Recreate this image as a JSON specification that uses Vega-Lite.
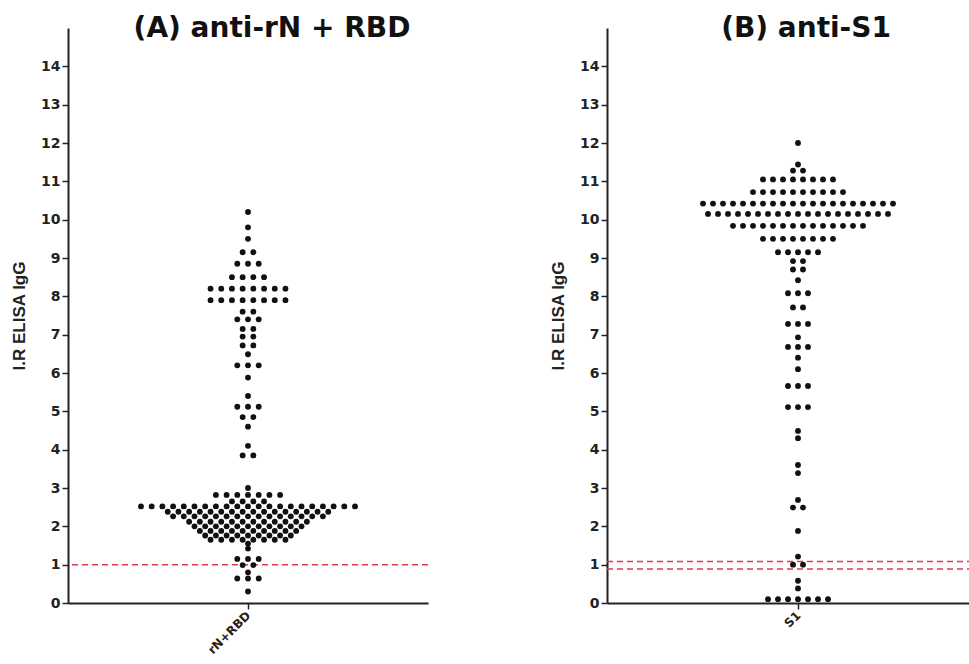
{
  "$schema": "https://vega.github.io/schema/vega-lite/v6.json",
  "background": "#ffffff",
  "padding": {"left": 10, "top": 15, "right": 0, "bottom": 0},
  "spacing": 120,
  "config": {
    "view": {"stroke": null},
    "axis": {"grid": false, "domainColor": "#222", "domainWidth": 2, "tickColor": "#222", "tickWidth": 1.5, "tickSize": 6, "labelColor": "#222", "titleColor": "#222"}
  },
  "datasets": {
    "pts": [
      {"g":"rN+RBD","v":10.2},{"g":"rN+RBD","v":9.8},{"g":"rN+RBD","v":9.5},
      {"g":"rN+RBD","v":9.15},{"g":"rN+RBD","v":9.15},
      {"g":"rN+RBD","v":8.85},{"g":"rN+RBD","v":8.85},{"g":"rN+RBD","v":8.85},
      {"g":"rN+RBD","v":8.5},{"g":"rN+RBD","v":8.5},{"g":"rN+RBD","v":8.5},{"g":"rN+RBD","v":8.5},
      {"g":"rN+RBD","v":8.2},{"g":"rN+RBD","v":8.2},{"g":"rN+RBD","v":8.2},{"g":"rN+RBD","v":8.2},{"g":"rN+RBD","v":8.2},{"g":"rN+RBD","v":8.2},{"g":"rN+RBD","v":8.2},{"g":"rN+RBD","v":8.2},
      {"g":"rN+RBD","v":7.9},{"g":"rN+RBD","v":7.9},{"g":"rN+RBD","v":7.9},{"g":"rN+RBD","v":7.9},{"g":"rN+RBD","v":7.9},{"g":"rN+RBD","v":7.9},{"g":"rN+RBD","v":7.9},{"g":"rN+RBD","v":7.9},
      {"g":"rN+RBD","v":7.6},{"g":"rN+RBD","v":7.6},
      {"g":"rN+RBD","v":7.4},{"g":"rN+RBD","v":7.4},{"g":"rN+RBD","v":7.4},
      {"g":"rN+RBD","v":7.15},{"g":"rN+RBD","v":7.15},
      {"g":"rN+RBD","v":6.95},{"g":"rN+RBD","v":6.95},
      {"g":"rN+RBD","v":6.72},{"g":"rN+RBD","v":6.72},
      {"g":"rN+RBD","v":6.49},
      {"g":"rN+RBD","v":6.2},{"g":"rN+RBD","v":6.2},{"g":"rN+RBD","v":6.2},
      {"g":"rN+RBD","v":5.88},{"g":"rN+RBD","v":5.4},
      {"g":"rN+RBD","v":5.12},{"g":"rN+RBD","v":5.12},{"g":"rN+RBD","v":5.12},
      {"g":"rN+RBD","v":4.85},{"g":"rN+RBD","v":4.85},
      {"g":"rN+RBD","v":4.6},{"g":"rN+RBD","v":4.1},
      {"g":"rN+RBD","v":3.85},{"g":"rN+RBD","v":3.85},
      {"g":"rN+RBD","v":3.0},
      {"g":"rN+RBD","v":2.82},{"g":"rN+RBD","v":2.82},{"g":"rN+RBD","v":2.82},{"g":"rN+RBD","v":2.82},{"g":"rN+RBD","v":2.82},{"g":"rN+RBD","v":2.82},{"g":"rN+RBD","v":2.82},
      {"g":"rN+RBD","v":2.65},{"g":"rN+RBD","v":2.65},{"g":"rN+RBD","v":2.65},{"g":"rN+RBD","v":2.65},
      {"g":"rN+RBD","v":2.52},{"g":"rN+RBD","v":2.52},{"g":"rN+RBD","v":2.52},{"g":"rN+RBD","v":2.52},{"g":"rN+RBD","v":2.52},{"g":"rN+RBD","v":2.52},{"g":"rN+RBD","v":2.52},{"g":"rN+RBD","v":2.52},{"g":"rN+RBD","v":2.52},{"g":"rN+RBD","v":2.52},{"g":"rN+RBD","v":2.52},{"g":"rN+RBD","v":2.52},{"g":"rN+RBD","v":2.52},{"g":"rN+RBD","v":2.52},{"g":"rN+RBD","v":2.52},{"g":"rN+RBD","v":2.52},{"g":"rN+RBD","v":2.52},{"g":"rN+RBD","v":2.52},{"g":"rN+RBD","v":2.52},{"g":"rN+RBD","v":2.52},{"g":"rN+RBD","v":2.52},
      {"g":"rN+RBD","v":2.38},{"g":"rN+RBD","v":2.38},{"g":"rN+RBD","v":2.38},{"g":"rN+RBD","v":2.38},{"g":"rN+RBD","v":2.38},{"g":"rN+RBD","v":2.38},{"g":"rN+RBD","v":2.38},{"g":"rN+RBD","v":2.38},{"g":"rN+RBD","v":2.38},{"g":"rN+RBD","v":2.38},{"g":"rN+RBD","v":2.38},{"g":"rN+RBD","v":2.38},{"g":"rN+RBD","v":2.38},{"g":"rN+RBD","v":2.38},{"g":"rN+RBD","v":2.38},{"g":"rN+RBD","v":2.38},
      {"g":"rN+RBD","v":2.26},{"g":"rN+RBD","v":2.26},{"g":"rN+RBD","v":2.26},{"g":"rN+RBD","v":2.26},{"g":"rN+RBD","v":2.26},{"g":"rN+RBD","v":2.26},{"g":"rN+RBD","v":2.26},{"g":"rN+RBD","v":2.26},{"g":"rN+RBD","v":2.26},{"g":"rN+RBD","v":2.26},{"g":"rN+RBD","v":2.26},{"g":"rN+RBD","v":2.26},{"g":"rN+RBD","v":2.26},{"g":"rN+RBD","v":2.26},{"g":"rN+RBD","v":2.26},
      {"g":"rN+RBD","v":2.12},{"g":"rN+RBD","v":2.12},{"g":"rN+RBD","v":2.12},{"g":"rN+RBD","v":2.12},{"g":"rN+RBD","v":2.12},{"g":"rN+RBD","v":2.12},{"g":"rN+RBD","v":2.12},{"g":"rN+RBD","v":2.12},{"g":"rN+RBD","v":2.12},{"g":"rN+RBD","v":2.12},{"g":"rN+RBD","v":2.12},{"g":"rN+RBD","v":2.12},
      {"g":"rN+RBD","v":2.0},{"g":"rN+RBD","v":2.0},{"g":"rN+RBD","v":2.0},{"g":"rN+RBD","v":2.0},{"g":"rN+RBD","v":2.0},{"g":"rN+RBD","v":2.0},{"g":"rN+RBD","v":2.0},{"g":"rN+RBD","v":2.0},{"g":"rN+RBD","v":2.0},{"g":"rN+RBD","v":2.0},{"g":"rN+RBD","v":2.0},
      {"g":"rN+RBD","v":1.88},{"g":"rN+RBD","v":1.88},{"g":"rN+RBD","v":1.88},{"g":"rN+RBD","v":1.88},{"g":"rN+RBD","v":1.88},{"g":"rN+RBD","v":1.88},{"g":"rN+RBD","v":1.88},{"g":"rN+RBD","v":1.88},{"g":"rN+RBD","v":1.88},{"g":"rN+RBD","v":1.88},
      {"g":"rN+RBD","v":1.76},{"g":"rN+RBD","v":1.76},{"g":"rN+RBD","v":1.76},{"g":"rN+RBD","v":1.76},{"g":"rN+RBD","v":1.76},{"g":"rN+RBD","v":1.76},{"g":"rN+RBD","v":1.76},{"g":"rN+RBD","v":1.76},{"g":"rN+RBD","v":1.76},
      {"g":"rN+RBD","v":1.65},{"g":"rN+RBD","v":1.65},{"g":"rN+RBD","v":1.65},{"g":"rN+RBD","v":1.65},{"g":"rN+RBD","v":1.65},{"g":"rN+RBD","v":1.65},{"g":"rN+RBD","v":1.65},{"g":"rN+RBD","v":1.65},
      {"g":"rN+RBD","v":1.55},{"g":"rN+RBD","v":1.42},
      {"g":"rN+RBD","v":1.15},{"g":"rN+RBD","v":1.15},{"g":"rN+RBD","v":1.15},
      {"g":"rN+RBD","v":0.99},{"g":"rN+RBD","v":0.99},
      {"g":"rN+RBD","v":0.8},
      {"g":"rN+RBD","v":0.64},{"g":"rN+RBD","v":0.64},{"g":"rN+RBD","v":0.64},
      {"g":"rN+RBD","v":0.3},
      {"g":"S1","v":12.0},{"g":"S1","v":11.44},
      {"g":"S1","v":11.28},{"g":"S1","v":11.28},
      {"g":"S1","v":11.05},{"g":"S1","v":11.05},{"g":"S1","v":11.05},{"g":"S1","v":11.05},{"g":"S1","v":11.05},{"g":"S1","v":11.05},{"g":"S1","v":11.05},{"g":"S1","v":11.05},
      {"g":"S1","v":10.72},{"g":"S1","v":10.72},{"g":"S1","v":10.72},{"g":"S1","v":10.72},{"g":"S1","v":10.72},{"g":"S1","v":10.72},{"g":"S1","v":10.72},{"g":"S1","v":10.72},{"g":"S1","v":10.72},{"g":"S1","v":10.72},
      {"g":"S1","v":10.42},{"g":"S1","v":10.42},{"g":"S1","v":10.42},{"g":"S1","v":10.42},{"g":"S1","v":10.42},{"g":"S1","v":10.42},{"g":"S1","v":10.42},{"g":"S1","v":10.42},{"g":"S1","v":10.42},{"g":"S1","v":10.42},{"g":"S1","v":10.42},{"g":"S1","v":10.42},{"g":"S1","v":10.42},{"g":"S1","v":10.42},{"g":"S1","v":10.42},{"g":"S1","v":10.42},{"g":"S1","v":10.42},{"g":"S1","v":10.42},{"g":"S1","v":10.42},{"g":"S1","v":10.42},
      {"g":"S1","v":10.15},{"g":"S1","v":10.15},{"g":"S1","v":10.15},{"g":"S1","v":10.15},{"g":"S1","v":10.15},{"g":"S1","v":10.15},{"g":"S1","v":10.15},{"g":"S1","v":10.15},{"g":"S1","v":10.15},{"g":"S1","v":10.15},{"g":"S1","v":10.15},{"g":"S1","v":10.15},{"g":"S1","v":10.15},{"g":"S1","v":10.15},{"g":"S1","v":10.15},{"g":"S1","v":10.15},{"g":"S1","v":10.15},{"g":"S1","v":10.15},{"g":"S1","v":10.15},
      {"g":"S1","v":9.84},{"g":"S1","v":9.84},{"g":"S1","v":9.84},{"g":"S1","v":9.84},{"g":"S1","v":9.84},{"g":"S1","v":9.84},{"g":"S1","v":9.84},{"g":"S1","v":9.84},{"g":"S1","v":9.84},{"g":"S1","v":9.84},{"g":"S1","v":9.84},{"g":"S1","v":9.84},{"g":"S1","v":9.84},{"g":"S1","v":9.84},
      {"g":"S1","v":9.5},{"g":"S1","v":9.5},{"g":"S1","v":9.5},{"g":"S1","v":9.5},{"g":"S1","v":9.5},{"g":"S1","v":9.5},{"g":"S1","v":9.5},{"g":"S1","v":9.5},
      {"g":"S1","v":9.15},{"g":"S1","v":9.15},{"g":"S1","v":9.15},{"g":"S1","v":9.15},{"g":"S1","v":9.15},
      {"g":"S1","v":8.92},{"g":"S1","v":8.92},
      {"g":"S1","v":8.7},{"g":"S1","v":8.7},
      {"g":"S1","v":8.42},
      {"g":"S1","v":8.08},{"g":"S1","v":8.08},{"g":"S1","v":8.08},
      {"g":"S1","v":7.71},{"g":"S1","v":7.71},
      {"g":"S1","v":7.28},{"g":"S1","v":7.28},{"g":"S1","v":7.28},
      {"g":"S1","v":6.93},
      {"g":"S1","v":6.68},{"g":"S1","v":6.68},{"g":"S1","v":6.68},
      {"g":"S1","v":6.4},{"g":"S1","v":6.1},
      {"g":"S1","v":5.66},{"g":"S1","v":5.66},{"g":"S1","v":5.66},
      {"g":"S1","v":5.11},{"g":"S1","v":5.11},{"g":"S1","v":5.11},
      {"g":"S1","v":4.49},{"g":"S1","v":4.3},
      {"g":"S1","v":3.6},{"g":"S1","v":3.39},
      {"g":"S1","v":2.69},{"g":"S1","v":2.49},{"g":"S1","v":2.49},
      {"g":"S1","v":1.88},
      {"g":"S1","v":1.21},{"g":"S1","v":1.0},{"g":"S1","v":1.0},
      {"g":"S1","v":0.58},{"g":"S1","v":0.38},
      {"g":"S1","v":0.1},{"g":"S1","v":0.1},{"g":"S1","v":0.1},{"g":"S1","v":0.1},{"g":"S1","v":0.1},{"g":"S1","v":0.1},{"g":"S1","v":0.1}
    ],
    "cut": [
      {"g":"rN+RBD","v":1.0},
      {"g":"S1","v":1.08},
      {"g":"S1","v":0.89}
    ]
  },
  "hconcat": [
    {
      "width": 360,
      "height": 575,
      "title": {"text": "(A) anti-rN + RBD", "font": "DejaVu Sans", "fontSize": 28, "fontWeight": "bold", "color": "#111", "anchor": "middle", "dx": 24, "offset": -37, "baseline": "alphabetic"},
      "layer": [
        {
          "data": {"name": "cut"},
          "transform": [{"filter": {"field": "g", "equal": "rN+RBD"}}],
          "mark": {"type": "rule", "color": "#e23a4c", "strokeWidth": 1.5, "strokeDash": [6, 4]},
          "encoding": {"y": {"field": "v", "type": "quantitative"}}
        },
        {
          "data": {"name": "pts"},
          "transform": [
            {"filter": {"field": "g", "equal": "rN+RBD"}},
            {"window": [{"op": "count", "as": "one"}], "frame": [0, 0]},
            {"stack": "one", "groupby": ["g", "v"], "offset": "center", "as": ["s0", "s1"]}
          ],
          "mark": {"type": "circle", "size": 34, "color": "#111", "opacity": 1},
          "encoding": {
            "x": {"field": "s0", "type": "quantitative", "scale": {"domain": [-6.82, 26.82], "nice": false, "zero": false},
                  "axis": {"values": [10], "labelExpr": "'rN+RBD'", "title": null, "labelAngle": -45, "labelAlign": "right", "labelBaseline": "middle", "labelFont": "DejaVu Sans", "labelFontWeight": "bold", "labelFontSize": 12, "labelPadding": 4}},
            "y": {"field": "v", "type": "quantitative", "scale": {"domain": [0, 15], "nice": false},
                  "axis": {"values": [0,1,2,3,4,5,6,7,8,9,10,11,12,13,14], "title": "I.R ELISA IgG", "labelFont": "DejaVu Sans", "labelFontWeight": "bold", "labelFontSize": 14, "labelPadding": 2, "titleFont": "Liberation Sans", "titleFontSize": 17, "titleFontWeight": "bold", "titlePadding": 12}}
          }
        }
      ]
    },
    {
      "width": 366,
      "height": 575,
      "title": {"text": "(B) anti-S1", "font": "DejaVu Sans", "fontSize": 28, "fontWeight": "bold", "color": "#111", "anchor": "middle", "dx": 16, "offset": -37, "baseline": "alphabetic"},
      "layer": [
        {
          "data": {"name": "cut"},
          "transform": [{"filter": {"field": "g", "equal": "S1"}}],
          "mark": {"type": "rule", "color": "#e23a4c", "strokeWidth": 1.5, "strokeDash": [6, 4]},
          "encoding": {"y": {"field": "v", "type": "quantitative"}}
        },
        {
          "data": {"name": "pts"},
          "transform": [
            {"filter": {"field": "g", "equal": "S1"}},
            {"window": [{"op": "count", "as": "one"}], "frame": [0, 0]},
            {"stack": "one", "groupby": ["g", "v"], "offset": "center", "as": ["s0", "s1"]}
          ],
          "mark": {"type": "circle", "size": 34, "color": "#111", "opacity": 1},
          "encoding": {
            "x": {"field": "s0", "type": "quantitative", "scale": {"domain": [-9.6, 27.0], "nice": false, "zero": false},
                  "axis": {"values": [9.5], "labelExpr": "'S1'", "title": null, "labelAngle": -45, "labelAlign": "right", "labelBaseline": "middle", "labelFont": "DejaVu Sans", "labelFontWeight": "bold", "labelFontSize": 12, "labelPadding": 4}},
            "y": {"field": "v", "type": "quantitative", "scale": {"domain": [0, 15], "nice": false},
                  "axis": {"values": [0,1,2,3,4,5,6,7,8,9,10,11,12,13,14], "title": "I.R ELISA IgG", "labelFont": "DejaVu Sans", "labelFontWeight": "bold", "labelFontSize": 14, "labelPadding": 2, "titleFont": "Liberation Sans", "titleFontSize": 17, "titleFontWeight": "bold", "titlePadding": 12}}
          }
        }
      ]
    }
  ]
}
